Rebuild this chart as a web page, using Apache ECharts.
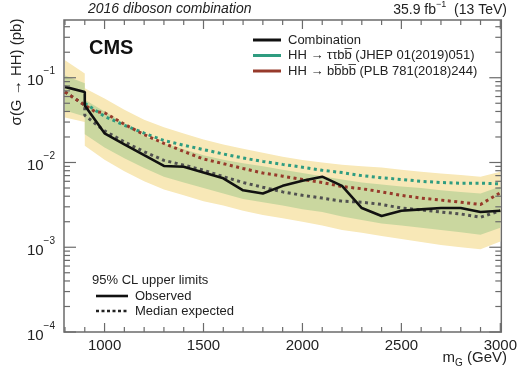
<!DOCTYPE html>
<html><head><meta charset="utf-8">
<script src="https://cdn.jsdelivr.net/npm/echarts@6/dist/echarts.min.js"></script>
<style>html,body{margin:0;padding:0;background:#fff}#c{width:520px;height:373px}</style>
</head><body><div id="c"></div>
<script>
const FONT = '"Liberation Sans", Arial, Helvetica, sans-serif';
const AXIS_COLOR = '#6b6b6b';

// ---- data ----
const bandMass = [800, 900, 900, 1000, 1100, 1200, 1300, 1400, 1500, 1600, 1700, 1800, 1900, 2000, 2100, 2200, 2300, 2400, 2500, 2600, 2700, 2800, 2900, 3000];
const observed = [0.078, 0.068, 0.047, 0.0221, 0.0164, 0.0122, 0.0091, 0.0089, 0.0076, 0.0065, 0.0047, 0.0043, 0.0053, 0.0061, 0.0068, 0.0053, 0.0029, 0.00234, 0.0027, 0.0028, 0.0029, 0.0029, 0.0026, 0.0027];
const expected = [0.068, 0.0475, 0.036, 0.0236, 0.0175, 0.0134, 0.0106, 0.0093, 0.0081, 0.0068, 0.0058, 0.0051, 0.0045, 0.0041, 0.0038, 0.0035, 0.0034, 0.0032, 0.0029, 0.00276, 0.0026, 0.00247, 0.00226, 0.0027];
const plus2 = [0.161, 0.112, 0.075, 0.057, 0.042, 0.032, 0.026, 0.022, 0.0187, 0.0163, 0.0145, 0.0130, 0.0117, 0.0107, 0.0100, 0.0094, 0.0090, 0.0087, 0.0082, 0.0078, 0.0074, 0.0071, 0.0068, 0.0078];
const plus1 = [0.106, 0.086, 0.055, 0.040, 0.029, 0.0205, 0.0168, 0.0143, 0.0122, 0.0108, 0.0098, 0.0090, 0.0082, 0.0075, 0.0069, 0.0063, 0.0058, 0.0055, 0.0052, 0.0050, 0.0047, 0.0045, 0.0043, 0.0052];
const minus1 = [0.041, 0.035, 0.0215, 0.0150, 0.0112, 0.0086, 0.0068, 0.0058, 0.0050, 0.0043, 0.0037, 0.0034, 0.0031, 0.0028, 0.0026, 0.0023, 0.0021, 0.0019, 0.0018, 0.0017, 0.0016, 0.0015, 0.0014, 0.0017];
const minus2 = [0.034, 0.030, 0.0158, 0.0108, 0.0079, 0.0060, 0.0048, 0.0041, 0.0035, 0.0031, 0.0027, 0.0024, 0.0022, 0.0020, 0.0018, 0.0016, 0.00148, 0.00136, 0.00125, 0.00115, 0.00106, 0.00100, 0.00095, 0.00117];

const ttbbMass = [900, 1000, 1100, 1200, 1300, 1400, 1500, 1600, 1700, 1800, 1900, 2000, 2100, 2200, 2300, 2400, 2500, 2600, 2700, 2800, 2900, 3000];
const ttbbExpected = [0.050, 0.035, 0.0275, 0.0222, 0.0182, 0.0160, 0.0142, 0.0126, 0.0113, 0.0103, 0.0095, 0.0088, 0.0081, 0.0076, 0.0070, 0.0066, 0.0063, 0.0060, 0.0058, 0.0057, 0.0057, 0.0056];

const bbbbMass = [800, 900, 950, 1000, 1100, 1200, 1300, 1400, 1500, 1600, 1700, 1800, 1900, 2000, 2100, 2200, 2300, 2400, 2500, 2600, 2700, 2800, 2900, 3000];
const bbbbExpected = [0.068, 0.0475, 0.040, 0.0387, 0.0283, 0.0213, 0.0168, 0.0135, 0.0110, 0.0097, 0.0085, 0.0075, 0.0069, 0.0063, 0.0058, 0.0052, 0.0049, 0.0045, 0.0041, 0.0038, 0.0036, 0.0034, 0.0032, 0.0044];

// axis ticks / labels
const xMin = 795, xMax = 3005;
const yMin = 1e-4, yMax = 0.48;
const xMajorTicks = [1000, 1500, 2000, 2500, 3000];
const xMinorTicks = [800, 900, 1100, 1200, 1300, 1400, 1600, 1700, 1800, 1900, 2100, 2200, 2300, 2400, 2600, 2700, 2800, 2900];
const yMajorTicks = [1e-4, 1e-3, 1e-2, 1e-1];
const yMinorTicks = [2e-4,3e-4,4e-4,5e-4,6e-4,7e-4,8e-4,9e-4, 2e-3,3e-3,4e-3,5e-3,6e-3,7e-3,8e-3,9e-3, 2e-2,3e-2,4e-2,5e-2,6e-2,7e-2,8e-2,9e-2, 2e-1,3e-1,4e-1];

const chart = echarts.init(document.getElementById('c'), null, {renderer: 'canvas'});

function pairs(xs, ys) { return xs.map((x, i) => [x, ys[i]]); }

function band(name, lo, hi, color, z) {
  return {
    type: 'custom', name: name, coordinateSystem: 'cartesian2d', silent: true, z: z,
    data: [[bandMass[0], lo[0]]], encode: {x: 0, y: 1},
    renderItem: function (params, api) {
      if (params.dataIndex !== 0) return;
      const pts = [];
      for (let i = 0; i < bandMass.length; i++) pts.push(api.coord([bandMass[i], hi[i]]));
      for (let i = bandMass.length - 1; i >= 0; i--) pts.push(api.coord([bandMass[i], lo[i]]));
      return {type: 'polygon', shape: {points: pts}, style: {fill: color}};
    }
  };
}

const ticksSeries = {
  type: 'custom', name: 'ticks', coordinateSystem: 'cartesian2d', silent: true, z: 20,
  data: [[1000, 0.01]], encode: {x: 0, y: 1},
  renderItem: function (params, api) {
    const cs = params.coordSys;
    const top = cs.y, bottom = cs.y + cs.height, left = cs.x, right = cs.x + cs.width;
    const children = [];
    const ln = (x1, y1, x2, y2) => children.push({type: 'line', shape: {x1: x1, y1: y1, x2: x2, y2: y2}, style: {stroke: AXIS_COLOR, lineWidth: 1.2}});
    xMajorTicks.forEach(m => { const x = api.coord([m, yMin])[0]; ln(x, bottom, x, bottom - 9); ln(x, top, x, top + 9); });
    xMinorTicks.forEach(m => { const x = api.coord([m, yMin])[0]; ln(x, bottom, x, bottom - 5); ln(x, top, x, top + 5); });
    yMajorTicks.forEach(v => { const y = api.coord([xMin, v])[1]; ln(left, y, left + 12, y); ln(right, y, right - 12, y); });
    yMinorTicks.forEach(v => { const y = api.coord([xMin, v])[1]; ln(left, y, left + 6, y); ln(right, y, right - 6, y); });
    return {type: 'group', children: children};
  }
};

const supRich = {
  b: {fontSize: 15, fontFamily: FONT, color: '#222', lineHeight: 22, verticalAlign: 'bottom'},
  s: {fontSize: 10, fontFamily: FONT, color: '#222', lineHeight: 12, verticalAlign: 'top'}
};

const option = {
  animation: false,
  backgroundColor: '#fff',
  textStyle: {fontFamily: FONT},
  grid: {left: 64, right: 14, top: 20, bottom: 41, show: true, borderColor: AXIS_COLOR, borderWidth: 1.5, backgroundColor: 'transparent'},
  xAxis: {
    type: 'value', min: xMin, max: xMax,
    axisLine: {show: false}, axisTick: {show: false}, splitLine: {show: false},
    axisLabel: {
      customValues: xMajorTicks, margin: 6, fontSize: 15, color: '#222', fontFamily: FONT,
      formatter: v => (v % 500 === 0 ? String(v) : '')
    }
  },
  yAxis: {
    type: 'log', logBase: 10, min: yMin, max: yMax,
    axisLine: {show: false}, axisTick: {show: false}, splitLine: {show: false},
    axisLabel: {
      margin: 9, rich: supRich,
      formatter: function (v) {
        const e = Math.log10(v); const r = Math.round(e);
        if (Math.abs(e - r) > 0.01) return '';
        return '{b|10}{s|\u2212' + Math.abs(r) + '}';
      }
    }
  },
  series: [
    band('2sigma', minus2, plus2, '#f8e8b7', 1),
    band('1sigma', minus1, plus1, '#cad79f', 2),
    {type: 'line', name: 'Median expected', data: pairs(bandMass, expected), showSymbol: false, z: 4,
      lineStyle: {color: '#505050', width: 3, type: [3, 3.5], cap: 'butt'}},
    {type: 'line', name: 'ttbb expected', data: pairs(ttbbMass, ttbbExpected), showSymbol: false, z: 5,
      lineStyle: {color: '#2f9c80', width: 3, type: [3, 3.5], cap: 'butt'}},
    {type: 'line', name: 'bbbb expected', data: pairs(bbbbMass, bbbbExpected), showSymbol: false, z: 6,
      lineStyle: {color: '#973a2b', width: 3, type: [3, 3.5], cap: 'butt'}},
    {type: 'line', name: 'Observed', data: pairs(bandMass, observed), showSymbol: false, z: 7,
      lineStyle: {color: '#111', width: 2.6}},
    ticksSeries
  ],
  graphic: [
    {type: 'text', left: 88, top: 2, style: {text: '2016 diboson combination', fontSize: 14, fontStyle: 'italic', fontFamily: FONT, fill: '#222'}},
    {type: 'text', right: 13, top: 0, style: {text: '35.9 fb{s|\u22121}  (13 TeV)', fontSize: 14, fontFamily: FONT, fill: '#222', lineHeight: 20,
      rich: {s: {fontSize: 9, fontFamily: FONT, fill: '#222', verticalAlign: 'top', lineHeight: 11}}}},
    {type: 'text', x: 89, y: 48, style: {text: 'CMS', fontSize: 20, fontWeight: 'bold', fontFamily: FONT, fill: '#111', verticalAlign: 'middle'}},
    // top-right legend
    {type: 'line', shape: {x1: 253, y1: 40, x2: 281, y2: 40}, style: {stroke: '#111', lineWidth: 3}},
    {type: 'line', shape: {x1: 253, y1: 55.5, x2: 281, y2: 55.5}, style: {stroke: '#2f9c80', lineWidth: 3}},
    {type: 'line', shape: {x1: 253, y1: 71, x2: 281, y2: 71}, style: {stroke: '#973a2b', lineWidth: 3}},
    {type: 'text', x: 288, y: 40, style: {text: 'Combination', fontSize: 13, fontFamily: FONT, fill: '#222', verticalAlign: 'middle'}},
    {type: 'text', x: 288, y: 55.5, style: {text: 'HH \u2192 \u03c4\u03c4bb\u0305 (JHEP 01(2019)051)', fontSize: 13, fontFamily: FONT, fill: '#222', verticalAlign: 'middle'}},
    {type: 'text', x: 288, y: 71, style: {text: 'HH \u2192 bb\u0305bb\u0305 (PLB 781(2018)244)', fontSize: 13, fontFamily: FONT, fill: '#222', verticalAlign: 'middle'}},
    // bottom-left legend
    {type: 'text', x: 92, y: 280, style: {text: '95% CL upper limits', fontSize: 13, fontFamily: FONT, fill: '#222', verticalAlign: 'middle'}},
    {type: 'line', shape: {x1: 96, y1: 296, x2: 128, y2: 296}, style: {stroke: '#111', lineWidth: 2.6}},
    {type: 'line', shape: {x1: 96, y1: 311, x2: 128, y2: 311}, style: {stroke: '#222', lineWidth: 2.6, lineDash: [3, 2.5]}},
    {type: 'text', x: 135, y: 296, style: {text: 'Observed', fontSize: 13, fontFamily: FONT, fill: '#222', verticalAlign: 'middle'}},
    {type: 'text', x: 135, y: 311, style: {text: 'Median expected', fontSize: 13, fontFamily: FONT, fill: '#222', verticalAlign: 'middle'}},
    // axis titles
    {type: 'text', x: 17, y: 72, rotation: Math.PI / 2, style: {text: '\u03c3(G \u2192 HH) (pb)', fontSize: 15, fontFamily: FONT, fill: '#222', align: 'center', verticalAlign: 'middle'}},
    {type: 'text', right: 13, top: 348, style: {text: 'm{g|G} (GeV)', fontSize: 15, fontFamily: FONT, fill: '#222', lineHeight: 20,
      rich: {g: {fontSize: 10, fontFamily: FONT, fill: '#222', verticalAlign: 'bottom', lineHeight: 14}}}}
  ]
};
chart.setOption(option);
</script>
</body></html>
